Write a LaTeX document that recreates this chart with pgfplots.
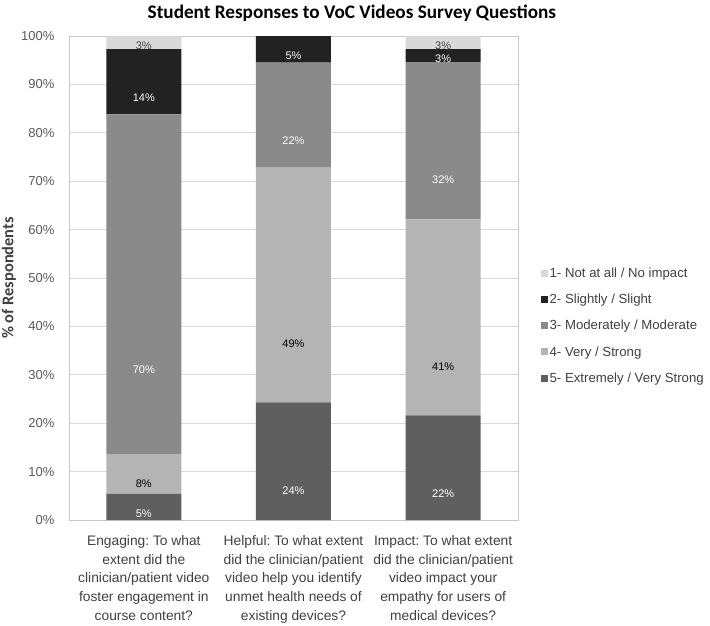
\documentclass[border=0pt]{standalone}
\usepackage{pgfplots}
\pgfplotsset{compat=1.18}
\usepackage{fontspec}
\setmainfont{Liberation Sans}
\newfontfamily\headfont{Carlito}
\frenchspacing
\definecolor{c1}{HTML}{D9D9D9}
\definecolor{c2}{HTML}{222222}
\definecolor{c3}{HTML}{8A8A8A}
\definecolor{c4}{HTML}{B4B4B4}
\definecolor{c5}{HTML}{5F5F5F}
\definecolor{gridc}{HTML}{D9D9D9}
\definecolor{framec}{HTML}{C8C8C8}
\definecolor{tickc}{HTML}{595959}
\definecolor{txt}{HTML}{404040}
\begin{document}
\begin{tikzpicture}
\begin{axis}[
  scale only axis, width=449pt, height=484pt,
  ybar stacked, bar width=75pt,
  xmin=-0.5, xmax=2.5, ymin=0, ymax=100,
  xtick={0,1,2},
  xticklabels={
    {Engaging: To what\\extent did the\\clinician/patient video\\foster engagement in\\course content?},
    {Helpful: To what extent\\did the clinician/patient\\video help you identify\\unmet health needs of\\existing devices?},
    {Impact: To what extent\\did the clinician/patient\\video impact your\\empathy for users of\\medical devices?}},
  xticklabel style={align=center, font=\fontsize{13.8}{18.7}\selectfont, text=txt, yshift=-12pt},
  ytick={0,10,...,100},
  yticklabels={0\%,10\%,20\%,30\%,40\%,50\%,60\%,70\%,80\%,90\%,100\%},
  yticklabel style={font=\fontsize{13}{15}\selectfont, text=tickc, xshift=-11pt},
  ymajorgrids, grid style={gridc, line width=0.8pt},
  axis line style={framec, line width=0.8pt},
  major tick length=0pt,
  ylabel={\headfont\bfseries \% of Respondents},
  every axis y label/.style={at={(axis description cs:0,0.5)}, xshift=-60pt, rotate=90, anchor=center, font=\fontsize{16.4}{18}\selectfont, text=txt},
  title={\headfont\bfseries Student Responses to VoC Videos Survey Questions},
  title style={at={(axis description cs:0.630,1)}, anchor=center, yshift=17pt, font=\fontsize{19.2}{21}\selectfont, text=black},
  legend style={at={(axis description cs:1.050,0.401)}, anchor=west, draw=none, fill=none, inner sep=0pt,
    font=\fontsize{13.2}{16}\selectfont, text=txt, row sep=11pt, legend cell align=left},
  legend image code/.code={\fill[#1,draw=none] (0pt,-3.5pt) rectangle (7pt,3.5pt);},
  reverse legend,
  point meta=explicit symbolic,
  nodes near coords,
  visualization depends on=rawy \as \rawy,
  every node near coord/.append style={anchor=center, font=\fontsize{11}{12}\selectfont, yshift={-\rawy*1.21pt}},
]
\addplot[fill=c5, draw=none, nodes near coords style={text=white}] coordinates {(0,5.4) [5\%] (1,24.3) [24\%] (2,21.6) [22\%]};
\addplot[fill=c4, draw=none, nodes near coords style={text=black}] coordinates {(0,8.1) [8\%] (1,48.6) [49\%] (2,40.5) [41\%]};
\addplot[fill=c3, draw=none, nodes near coords style={text=white}] coordinates {(0,70.3) [70\%] (1,21.6) [22\%] (2,32.5) [32\%]};
\addplot[fill=c2, draw=none, nodes near coords style={text=white}] coordinates {(0,13.5) [14\%] (1,5.5) [5\%] (2,2.7) [3\%]};
\addplot[fill=c1, draw=none, nodes near coords style={text=txt}] coordinates {(0,2.7) [3\%] (1,0) [] (2,2.7) [3\%]};
\legend{5- Extremely / Very Strong, 4- Very / Strong, 3- Moderately / Moderate, 2- Slightly / Slight, 1- Not at all / No impact}
\end{axis}
\pgfresetboundingbox
\path (-69pt,-105pt) rectangle (641pt,520pt);
\end{tikzpicture}
\end{document}
